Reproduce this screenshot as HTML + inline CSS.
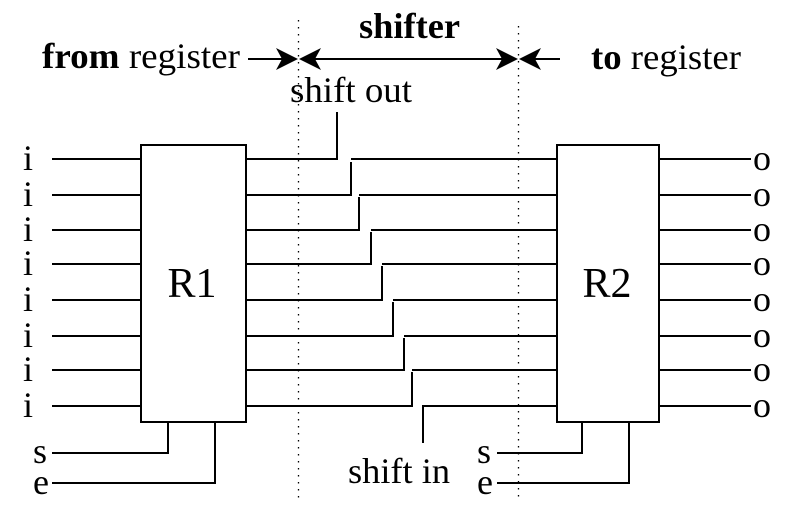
<!DOCTYPE html>
<html><head><style>body{margin:0;background:#fff}svg{display:block}</style></head><body>
<svg width="799" height="528" viewBox="0 0 799 528" xmlns="http://www.w3.org/2000/svg" font-family="Liberation Serif, serif" fill="#000">
<g stroke="#000" stroke-width="1.3" stroke-dasharray="1.5 5.5">
<line x1="298.5" y1="20" x2="298.5" y2="498"/>
<line x1="518.5" y1="26" x2="518.5" y2="498"/>
</g>
<g stroke="#000" stroke-width="2">
<line x1="248" y1="59" x2="285" y2="59"/>
<line x1="312" y1="59" x2="505" y2="59"/>
<line x1="532" y1="59" x2="560" y2="59"/>
</g>
<polygon points="298,59 276,48 282,59 276,70"/>
<polygon points="299,59 321,48 315,59 321,70"/>
<polygon points="518,59 496,48 502,59 496,70"/>
<polygon points="519,59 541,48 535,59 541,70"/>
<text x="42" y="68" font-size="36" textLength="198" lengthAdjust="spacingAndGlyphs"><tspan font-weight="bold">from</tspan> register</text>
<text x="591" y="69" font-size="36" textLength="150" lengthAdjust="spacingAndGlyphs"><tspan font-weight="bold">to</tspan> register</text>
<text x="359" y="38" font-size="36" font-weight="bold" textLength="101" lengthAdjust="spacingAndGlyphs">shifter</text>
<text x="290" y="102" font-size="36" textLength="122" lengthAdjust="spacingAndGlyphs">shift out</text>
<text x="348" y="483" font-size="36" textLength="102" lengthAdjust="spacingAndGlyphs">shift in</text>
<g fill="none" stroke="#000" stroke-width="2">
<rect x="141" y="145" width="105" height="277"/>
<rect x="557" y="145" width="102" height="277"/>
<path d="M52 453H168V422M52 483H215V422"/>
<path d="M497 453H582V422M497 483H629V422"/>
<path d="M246 159H337V112"/>
<path d="M423 443V406H557"/>
</g>
<g stroke="#000" stroke-width="2" fill="none">
<path d="M52 159H141M660 159H751"/>
<path d="M52 195H141M660 195H751"/>
<path d="M52 230H141M660 230H751"/>
<path d="M52 264H141M660 264H751"/>
<path d="M52 300H141M660 300H751"/>
<path d="M52 336H141M660 336H751"/>
<path d="M52 370H141M660 370H751"/>
<path d="M52 406H141M660 406H751"/>
<path d="M246 195H351V162M351 159H557"/>
<path d="M246 230H359V197M359 195H557"/>
<path d="M246 264H371V232M371 230H557"/>
<path d="M246 300H382V266M382 264H557"/>
<path d="M246 336H393V302M393 300H557"/>
<path d="M246 370H404V338M404 336H557"/>
<path d="M246 406H412V372M412 370H557"/>
</g>
<g font-size="36">
<text x="23" y="170">i</text><text x="23" y="206">i</text><text x="23" y="241">i</text><text x="23" y="275">i</text>
<text x="23" y="311">i</text><text x="23" y="347">i</text><text x="23" y="381">i</text><text x="23" y="417">i</text>
<text x="753" y="170">o</text><text x="753" y="206">o</text><text x="753" y="241">o</text><text x="753" y="275">o</text>
<text x="753" y="311">o</text><text x="753" y="347">o</text><text x="753" y="381">o</text><text x="753" y="417">o</text>
<text x="33" y="463">s</text><text x="33" y="494">e</text>
<text x="477" y="463">s</text><text x="477" y="494">e</text>
</g>
<text x="192" y="297" font-size="42" text-anchor="middle">R1</text>
<text x="607" y="297" font-size="42" text-anchor="middle">R2</text>
</svg>
</body></html>
